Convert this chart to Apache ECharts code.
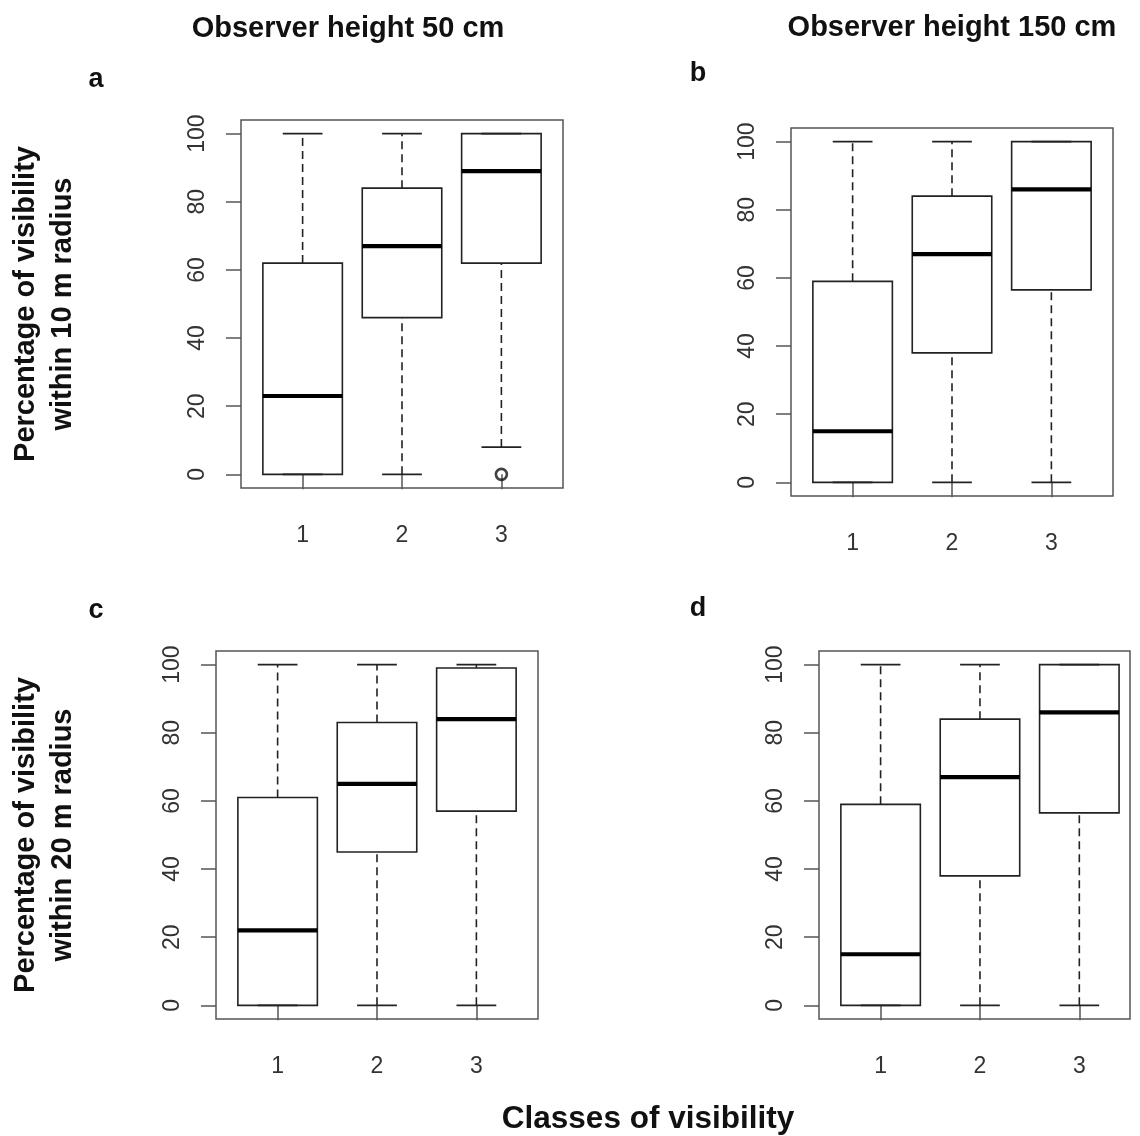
<!DOCTYPE html>
<html>
<head>
<meta charset="utf-8">
<title>Visibility box plots</title>
<script src="https://cdn.jsdelivr.net/npm/echarts@6/dist/echarts.min.js"></script>
<style>
  html, body { margin: 0; padding: 0; background: #ffffff; }
  #chart { width: 1140px; height: 1136px; }
</style>
</head>
<body>
<div id="chart"></div>
<script>
// ---------------- data ----------------
const categories = ['1', '2', '3'];
const yTicks = [0, 20, 40, 60, 80, 100];

// five-number summaries per class: [lower whisker, Q1, median, Q3, upper whisker]
const panelA = [[0, 0, 23, 62, 100], [0, 46, 67, 84, 100], [8, 62, 89, 100, 100]];
const panelB = [[0, 0, 15, 59, 100], [0, 38, 67, 84, 100], [0, 56.5, 86, 100, 100]];
const panelC = [[0, 0, 22, 61, 100], [0, 45, 65, 83, 100], [0, 57, 84, 99, 100]];
const panelD = [[0, 0, 15, 59, 100], [0, 38, 67, 84, 100], [0, 56.5, 86, 100, 100]];

// outliers: [class, value]
const outliersA = [['3', 0]];
const outliersB = [];
const outliersC = [];
const outliersD = [];

const columnTitles = ['Observer height 50 cm', 'Observer height 150 cm'];
const panelLetters = ['a', 'b', 'c', 'd'];
const rowLabels = ['Percentage of visibility\nwithin 10 m radius', 'Percentage of visibility\nwithin 20 m radius'];
const xTitle = 'Classes of visibility';

// ---------------- styling / layout ----------------
const FONT = '"Liberation Sans", Arial, Helvetica, sans-serif';
const LINE = '#222';
const FRAME = '#555';
const TICKC = '#555';
const LABELC = '#333';

const panels = [
  { stats: panelA, out: outliersA, grid: { left: 241, top: 120, width: 322, height: 368 }, xMax: 3.62, yName: rowLabels[0], nameGap: 160 },
  { stats: panelB, out: outliersB, grid: { left: 791, top: 128, width: 322, height: 368 }, xMax: 3.62, yName: '', nameGap: 0 },
  { stats: panelC, out: outliersC, grid: { left: 216, top: 651, width: 322, height: 368 }, xMax: 3.62, yName: rowLabels[1], nameGap: 135 },
  { stats: panelD, out: outliersD, grid: { left: 819, top: 651, width: 311, height: 368 }, xMax: 3.51, yName: '', nameGap: 0 }
];

function renderBox(params, api) {
  const x = api.value(0);
  const lo = api.value(1), q1 = api.value(2), med = api.value(3), q3 = api.value(4), hi = api.value(5);
  const half = 0.4, cap = 0.2;
  const P = (dx, v) => api.coord([x + dx, v]);
  const dashed = { stroke: LINE, lineWidth: 1.6, lineDash: [8, 5], fill: null };
  const solid = { stroke: LINE, lineWidth: 1.6, fill: null };
  const line = (a, b, style) => ({ type: 'line', shape: { x1: a[0], y1: a[1], x2: b[0], y2: b[1] }, style: style });
  const bl = P(-half, q1), tr = P(half, q3);
  const children = [];
  if (hi > q3) children.push(line(P(0, q3), P(0, hi), dashed));
  if (lo < q1) children.push(line(P(0, lo), P(0, q1), dashed));
  children.push(line(P(-cap, hi), P(cap, hi), solid));
  children.push(line(P(-cap, lo), P(cap, lo), solid));
  children.push({ type: 'rect', shape: { x: bl[0], y: tr[1], width: tr[0] - bl[0], height: bl[1] - tr[1] }, style: { stroke: LINE, lineWidth: 1.6, fill: 'rgba(0,0,0,0)' } });
  children.push(line(P(-half, med), P(half, med), { stroke: '#000', lineWidth: 4.2 }));
  return { type: 'group', children: children };
}

const option = {
  backgroundColor: '#ffffff',
  animation: false,
  grid: [],
  xAxis: [],
  yAxis: [],
  series: [],
  graphic: []
};

panels.forEach((p, i) => {
  option.grid.push(Object.assign({ show: true, borderColor: FRAME, borderWidth: 1.5, backgroundColor: 'transparent', containLabel: false }, p.grid));
  option.xAxis.push({
    type: 'value', gridIndex: i, min: 0.38, max: p.xMax,
    axisLine: { show: false }, splitLine: { show: false },
    axisTick: { show: true, length: 15, lineStyle: { color: TICKC, width: 1.5 }, customValues: categories.map((c, k) => k + 1) },
    axisLabel: { show: true, margin: 36, fontSize: 23, color: LABELC, fontFamily: FONT,
      customValues: categories.map((c, k) => k + 1), formatter: v => categories[Math.round(v) - 1] }
  });
  option.yAxis.push({
    type: 'value', gridIndex: i, min: -4, max: 104,
    name: p.yName, nameLocation: 'middle', nameRotate: 90, nameGap: p.nameGap,
    nameTextStyle: { fontSize: 29, fontWeight: 'bold', color: '#111', fontFamily: FONT, lineHeight: 37, align: 'center' },
    axisLine: { show: false }, splitLine: { show: false },
    axisTick: { show: true, length: 15, lineStyle: { color: TICKC, width: 1.5 }, customValues: yTicks },
    axisLabel: { show: true, rotate: 90, margin: 32, fontSize: 23, color: LABELC, fontFamily: FONT, customValues: yTicks }
  });
  option.series.push({
    type: 'custom', xAxisIndex: i, yAxisIndex: i,
    renderItem: renderBox,
    data: p.stats.map((s, k) => [k + 1].concat(s)),
    clip: false, silent: true
  });
  if (p.out.length) {
    option.series.push({
      type: 'scatter', xAxisIndex: i, yAxisIndex: i,
      data: p.out.map(o => [categories.indexOf(o[0]) + 1, o[1]]),
      symbol: 'circle', symbolSize: 11,
      itemStyle: { color: 'rgba(0,0,0,0)', borderColor: '#111', borderWidth: 2.6 },
      silent: true
    });
  }
});

const textStyle = (text, size) => ({ text: text, font: 'bold ' + size + 'px ' + FONT, fill: '#111', align: 'center', verticalAlign: 'middle' });
option.graphic = [
  { type: 'text', x: 348, y: 29, style: textStyle(columnTitles[0], 29) },
  { type: 'text', x: 952, y: 28, style: textStyle(columnTitles[1], 29) },
  { type: 'text', x: 96, y: 80, style: textStyle(panelLetters[0], 27) },
  { type: 'text', x: 698, y: 74, style: textStyle(panelLetters[1], 27) },
  { type: 'text', x: 96, y: 611, style: textStyle(panelLetters[2], 27) },
  { type: 'text', x: 698, y: 609, style: textStyle(panelLetters[3], 27) },
  { type: 'text', x: 648, y: 1119, style: textStyle(xTitle, 31.5) }
];

const chart = echarts.init(document.getElementById('chart'), null, { renderer: 'canvas' });
chart.setOption(option);
</script>
</body>
</html>
